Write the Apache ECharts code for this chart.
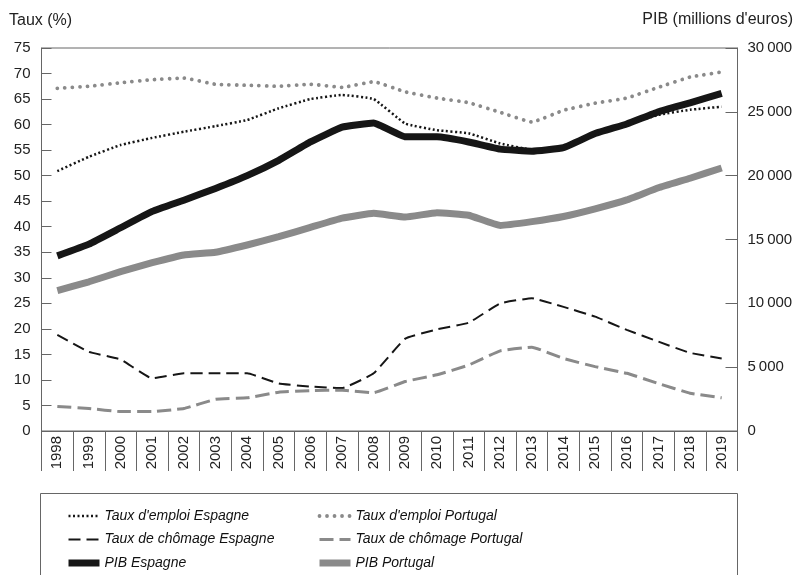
<!DOCTYPE html>
<html>
<head>
<meta charset="utf-8">
<script src="https://cdn.jsdelivr.net/npm/echarts@6/dist/echarts.min.js"></script>
<style>
  html, body { margin: 0; padding: 0; background: #fff; }
  #chart { width: 796px; height: 575px; }
</style>
</head>
<body>
<div id="chart"></div>
<script>
// Data
var years = ['1998', '1999', '2000', '2001', '2002', '2003', '2004', '2005', '2006', '2007', '2008',
             '2009', '2010', '2011', '2012', '2013', '2014', '2015', '2016', '2017', '2018', '2019'];
// taux (%), left axis
var emploiEspagne = [50.9, 53.7, 56.0, 57.4, 58.6, 59.7, 60.9, 63.2, 65.0, 65.8, 65.0, 60.2, 58.9, 58.3, 56.3, 55.1, 55.6, 58.0, 60.0, 61.9, 62.9, 63.5];
var emploiPortugal = [67.1, 67.5, 68.2, 68.8, 69.1, 67.9, 67.7, 67.5, 67.9, 67.3, 68.4, 66.4, 65.2, 64.3, 62.4, 60.5, 62.8, 64.2, 65.2, 67.3, 69.3, 70.3];
var chomageEspagne = [18.8, 15.5, 14.0, 10.3, 11.3, 11.3, 11.3, 9.3, 8.7, 8.4, 11.3, 18.1, 19.9, 21.2, 25.0, 26.0, 24.3, 22.4, 19.8, 17.5, 15.3, 14.2];
var chomagePortugal = [4.8, 4.4, 3.8, 3.8, 4.4, 6.2, 6.5, 7.6, 7.9, 8.0, 7.5, 9.7, 11.0, 12.9, 15.7, 16.4, 14.2, 12.6, 11.3, 9.3, 7.4, 6.5];
// PIB (millions d'euros), right axis
var pibEspagne = [13720, 14640, 15920, 17200, 18080, 19000, 20000, 21200, 22640, 23800, 24120, 23040, 23040, 22640, 22080, 21920, 22200, 23300, 24050, 25000, 25700, 26450];
var pibPortugal = [11000, 11690, 12480, 13180, 13790, 14000, 14570, 15220, 15950, 16680, 17050, 16760, 17100, 16900, 16100, 16400, 16800, 17400, 18100, 19050, 19800, 20600];

var names = {
    empES: "Taux d'emploi Espagne",
    empPT: "Taux d'emploi Portugal",
    chES: "Taux de chômage Espagne",
    chPT: "Taux de chômage Portugal",
    pibES: "PIB Espagne",
    pibPT: "PIB Portugal"
};

var BLACK = '#161616';
var GRAY = '#8a8a8a';
var AXIS = '#666666';
var TEXT = '#222222';
var FONT = '"Liberation Sans", Arial, sans-serif';

// line styles, shared by the series and their legend icons
var styles = {
    empES: { color: BLACK, width: 2.5, type: [2, 2.5] },
    empPT: { color: GRAY, width: 3.8, type: [0.01, 7.5], cap: 'round' },
    chES: { color: BLACK, width: 2, type: [12, 6] },
    chPT: { color: GRAY, width: 3, type: [14, 6] },
    pibES: { color: BLACK, width: 7, join: 'round' },
    pibPT: { color: GRAY, width: 7, join: 'round' }
};

function makeSeries(key, data, axisIndex) {
    return {
        name: names[key],
        type: 'line',
        yAxisIndex: axisIndex,
        data: data,
        symbol: 'circle',
        showSymbol: false,
        smooth: 0.1,
        color: styles[key].color,
        lineStyle: styles[key],
        emphasis: { disabled: true }
    };
}

// legend icon = the line only, the symbol of the line icon is hidden
function legendItem(key) {
    return {
        name: names[key],
        lineStyle: styles[key],
        itemStyle: { color: 'rgba(0,0,0,0)', borderColor: 'rgba(0,0,0,0)', borderWidth: 0, opacity: 0 }
    };
}

var legendCommon = {
    orient: 'vertical',
    top: 509,
    padding: 0,
    itemWidth: 31,
    itemHeight: 14,
    itemGap: 9.5,
    selectedMode: false,
    textStyle: { fontFamily: FONT, fontSize: 14, fontStyle: 'italic', color: '#111' }
};

var chart = echarts.init(document.getElementById('chart'), null, { renderer: 'canvas' });

chart.setOption({
    animation: false,
    backgroundColor: '#fff',
    textStyle: { fontFamily: FONT },
    grid: {
        left: 41.5, right: 58.5, top: 48, bottom: 144,
        show: true, borderColor: AXIS, borderWidth: 1, backgroundColor: 'transparent'
    },
    legend: [
        Object.assign({ left: 65, data: [legendItem('empES'), legendItem('chES'), legendItem('pibES')] }, legendCommon),
        Object.assign({ left: 316, data: [legendItem('empPT'), legendItem('chPT'), legendItem('pibPT')] }, legendCommon)
    ],
    graphic: [
        {
            type: 'rect', silent: true, z: -1,
            shape: { x: 40.5, y: 493.5, width: 697, height: 100 },
            style: { fill: 'none', stroke: AXIS, lineWidth: 1 }
        },
        {
            type: 'text', left: 9, top: 13,
            style: { text: 'Taux (%)', font: '16px ' + FONT, fill: TEXT }
        },
        {
            type: 'text', right: 3, top: 12,
            style: { text: "PIB (millions d'euros)", font: '16px ' + FONT, fill: TEXT }
        }
    ],
    xAxis: {
        type: 'category',
        data: years,
        boundaryGap: true,
        axisLine: { lineStyle: { color: AXIS, width: 1 } },
        axisTick: { show: true, interval: 0, length: 40, lineStyle: { color: AXIS } },
        axisLabel: { interval: 0, rotate: 90, margin: 5, fontSize: 15, color: TEXT, fontFamily: FONT },
        splitLine: { show: false }
    },
    yAxis: [
        {
            type: 'value', position: 'left',
            min: 0, max: 75, interval: 5,
            axisLine: { show: true, lineStyle: { color: AXIS } },
            axisTick: { show: true, inside: true, length: 10, lineStyle: { color: AXIS } },
            axisLabel: { margin: 11, fontSize: 15, color: TEXT, fontFamily: FONT },
            splitLine: { show: false }
        },
        {
            type: 'value', position: 'right',
            min: 0, max: 30000, interval: 5000,
            axisLine: { show: true, lineStyle: { color: AXIS } },
            axisTick: { show: true, inside: true, length: 12, lineStyle: { color: AXIS } },
            axisLabel: {
                margin: 10, fontSize: 15, color: TEXT, fontFamily: FONT,
                formatter: function (v) {
                    var s = String(v);
                    return s.length > 3 ? s.slice(0, s.length - 3) + '\u2009' + s.slice(-3) : s;
                }
            },
            splitLine: { show: false }
        }
    ],
    series: [
        makeSeries('pibES', pibEspagne, 1),
        makeSeries('pibPT', pibPortugal, 1),
        makeSeries('empES', emploiEspagne, 0),
        makeSeries('empPT', emploiPortugal, 0),
        makeSeries('chES', chomageEspagne, 0),
        makeSeries('chPT', chomagePortugal, 0)
    ]
});
</script>
</body>
</html>
